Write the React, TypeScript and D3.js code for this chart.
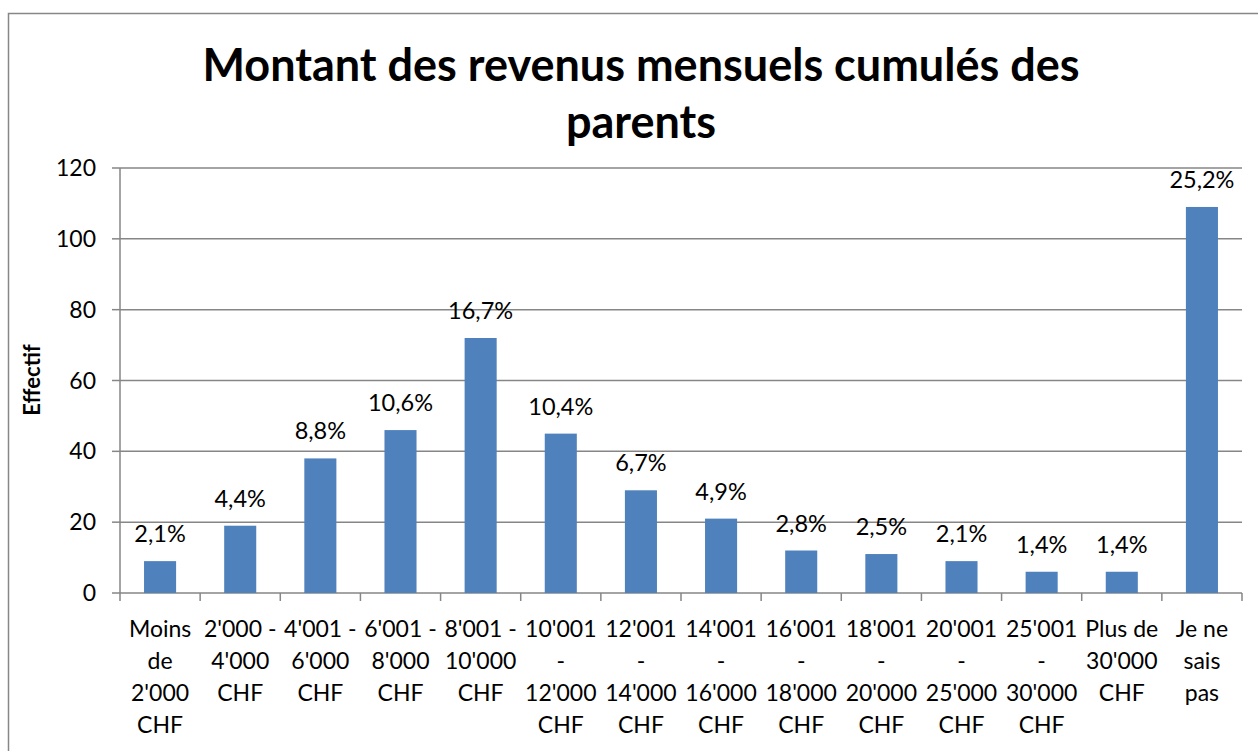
import React from "react";
import * as d3 from "d3";

const categories: string[][] = [
  ["Moins", "de", "2'000", "CHF"],
  ["2'000 -", "4'000", "CHF"],
  ["4'001 -", "6'000", "CHF"],
  ["6'001 -", "8'000", "CHF"],
  ["8'001 -", "10'000", "CHF"],
  ["10'001", "-", "12'000", "CHF"],
  ["12'001", "-", "14'000", "CHF"],
  ["14'001", "-", "16'000", "CHF"],
  ["16'001", "-", "18'000", "CHF"],
  ["18'001", "-", "20'000", "CHF"],
  ["20'001", "-", "25'000", "CHF"],
  ["25'001", "-", "30'000", "CHF"],
  ["Plus de", "30'000", "CHF"],
  ["Je ne", "sais", "pas"],
];
const values: number[] = [9, 19, 38, 46, 72, 45, 29, 21, 12, 11, 9, 6, 6, 109];
const percentLabels: string[] = [
  "2,1%", "4,4%", "8,8%", "10,6%", "16,7%", "10,4%", "6,7%", "4,9%", "2,8%", "2,5%", "2,1%", "1,4%", "1,4%", "25,2%",
];
const yTicks: number[] = [0, 20, 40, 60, 80, 100, 120];
const titleLines: string[] = ["Montant des revenus mensuels cumulés des", "parents"];
const yAxisTitle = "Effectif";

const W = 1258;
const H = 751;
const plot = { left: 120, right: 1242, top: 168, bottom: 593 };
const FONT = "Lato, 'Open Sans', sans-serif";
const GRID = "#868686";
const BAR = "#4F81BD";

export default function App() {
  const x = d3
    .scaleBand<number>()
    .domain(values.map((_, i) => i))
    .range([plot.left, plot.right])
    .paddingInner(0.6)
    .paddingOuter(0.3);
  const band = d3.scaleBand<number>().domain(values.map((_, i) => i)).range([plot.left, plot.right]);
  const y = d3.scaleLinear().domain([0, 120]).range([plot.bottom, plot.top]);

  return (
    <svg
      width={W}
      height={H}
      style={{ position: "absolute", left: 0, top: 0, background: "#fff" }}
      fontFamily={FONT}
    >
      <rect x={8.5} y={13.5} width={W} height={H} fill="#fff" stroke="#878787" strokeWidth={1.5} />
      {titleLines.map((t, i) => (
        <text
          key={i}
          x={641}
          y={81 + i * 57}
          textAnchor="middle"
          fontSize={45}
          fontWeight="bold"
          fill="#000"
        >
          {t}
        </text>
      ))}
      <text
        transform={`translate(40,380) rotate(-90)`}
        textAnchor="middle"
        fontSize={22}
        fontWeight="bold"
        fill="#000"
      >
        {yAxisTitle}
      </text>
      {yTicks.map((t) => (
        <g key={t}>
          {t > 0 && (
            <line x1={plot.left} x2={plot.right} y1={y(t)} y2={y(t)} stroke={GRID} strokeWidth={1.5} />
          )}
          <line x1={plot.left - 8} x2={plot.left} y1={y(t)} y2={y(t)} stroke={GRID} strokeWidth={1.5} />
          <text x={96} y={y(t) + 8} textAnchor="end" fontSize={23} fill="#000">
            {t}
          </text>
        </g>
      ))}
      <line x1={plot.left} x2={plot.left} y1={plot.top} y2={plot.bottom} stroke={GRID} strokeWidth={1.5} />
      <line x1={plot.left} x2={plot.right} y1={plot.bottom} y2={plot.bottom} stroke={GRID} strokeWidth={1.5} />
      {values.map((_, i) => (
        <line
          key={"t" + i}
          x1={band(i)!}
          x2={band(i)!}
          y1={plot.bottom}
          y2={plot.bottom + 8}
          stroke={GRID}
          strokeWidth={1.5}
        />
      ))}
      <line x1={plot.right} x2={plot.right} y1={plot.bottom} y2={plot.bottom + 8} stroke={GRID} strokeWidth={1.5} />
      {values.map((v, i) => (
        <rect key={"b" + i} x={x(i)!} y={y(v)} width={x.bandwidth()} height={y(0) - y(v)} fill={BAR} />
      ))}
      {values.map((v, i) => (
        <text
          key={"l" + i}
          x={x(i)! + x.bandwidth() / 2}
          y={y(v) - 19}
          textAnchor="middle"
          fontSize={23.5}
          fill="#000"
        >
          {percentLabels[i]}
        </text>
      ))}
      {categories.map((lines, i) => (
        <text
          key={"c" + i}
          x={band(i)! + band.bandwidth() / 2}
          textAnchor="middle"
          fontSize={23}
          fill="#000"
        >
          {lines.map((ln, j) => (
            <tspan key={j} x={band(i)! + band.bandwidth() / 2} y={637 + j * 32}>
              {ln}
            </tspan>
          ))}
        </text>
      ))}
    </svg>
  );
}
